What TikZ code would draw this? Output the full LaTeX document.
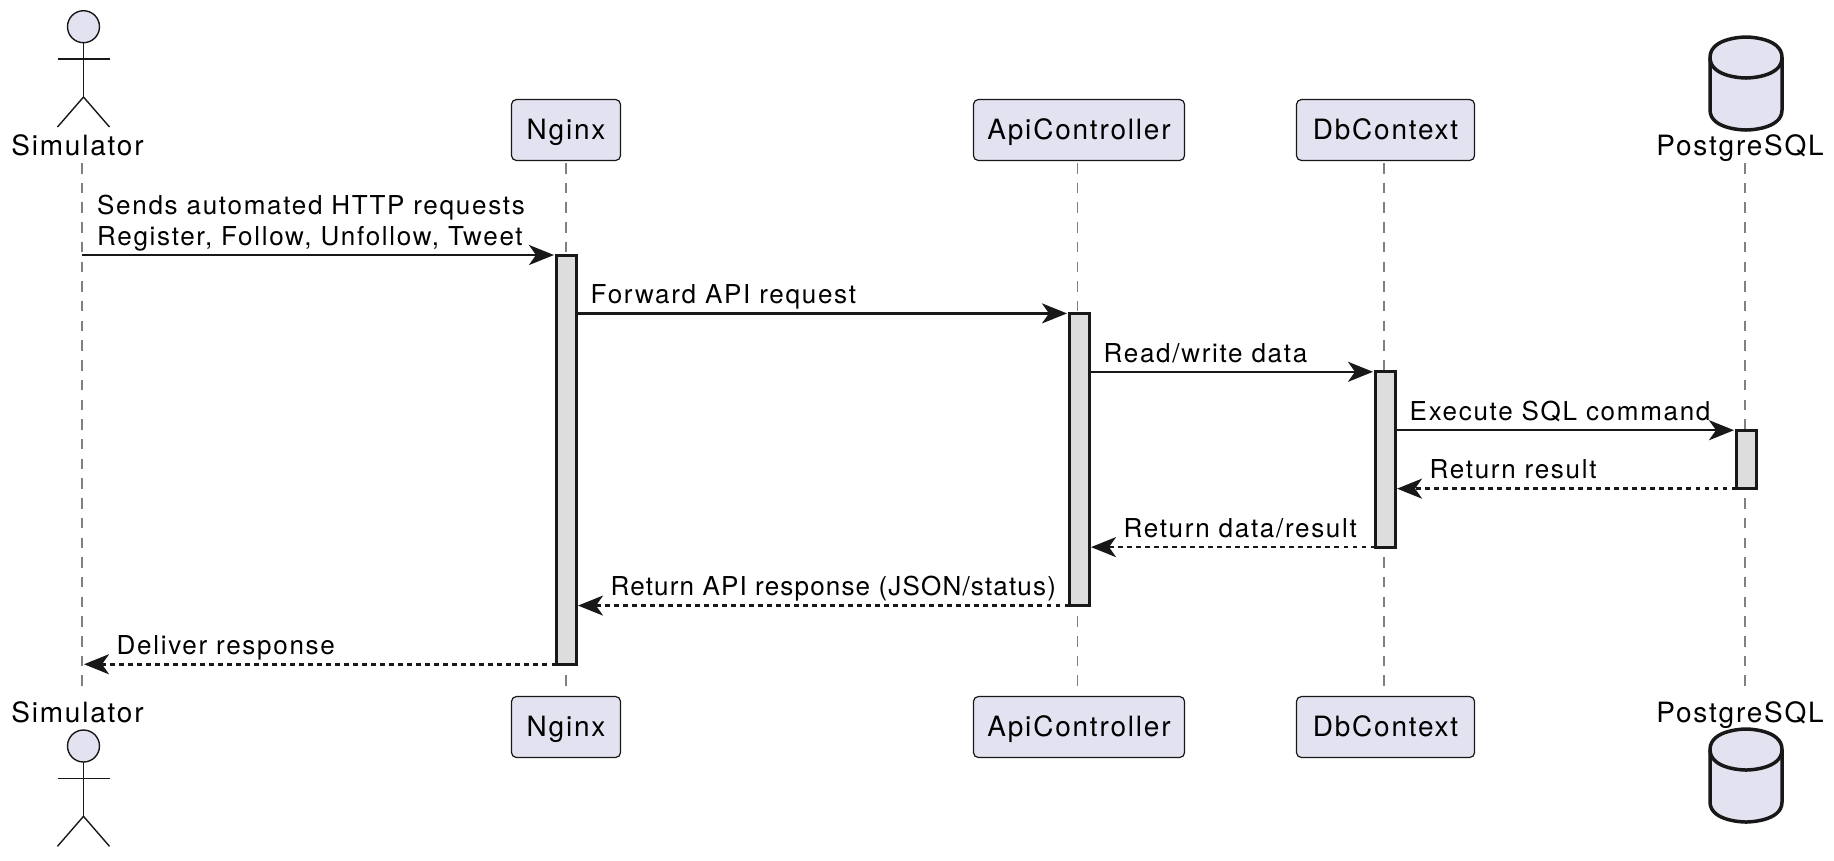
\documentclass[tikz,border=0pt]{standalone}
\usepackage{fontspec}
\setmainfont[LetterSpace=6.5]{TeX Gyre Heros}
\usetikzlibrary{arrows.meta}
\definecolor{partfill}{HTML}{E2E2F0}
\definecolor{barfill}{HTML}{DDDDDD}
\definecolor{inkline}{HTML}{181818}
\definecolor{lifegray}{HTML}{808080}
\tikzset{
    partbox/.style={draw=inkline,fill=partfill,line width=0.012cm,rounded corners=0.05cm,minimum height=0.61cm,inner sep=0pt,outer sep=0pt,text height=0.24cm,text depth=0.06cm,font=\fontsize{7.95}{9}\selectfont},
    partname/.style={anchor=base,inner sep=0pt,font=\fontsize{7.95}{9}\selectfont},
    msgname/.style={anchor=base west,inner sep=0pt,align=left,font=\fontsize{7.4}{8.8}\selectfont},
    lifeline/.style={lifegray,line width=0.015cm,dash pattern=on 0.105cm off 0.092cm},
    actbar/.style={draw=inkline,fill=barfill,line width=0.03cm,minimum width=0.2cm,inner sep=0pt,outer sep=0pt,anchor=north},
    msgcall/.style={-{Stealth[length=0.25cm,width=0.2cm,inset=0.07cm]},inkline,line width=0.025cm,shorten >=0.02cm},
    msgback/.style={msgcall,dash pattern=on 0.045cm off 0.045cm},
    actorhead/.style={draw=inkline,fill=partfill,line width=0.014cm},
    actorline/.style={draw=inkline,line width=0.014cm},
    dbline/.style={draw=inkline,fill=partfill,line width=0.035cm}
}
\begin{document}
\begin{tikzpicture}[x=0.01cm,y=-0.01cm]
    \useasboundingbox (0,0) rectangle (1834,860);
    % lifelines
    \coordinate (lineSimA) at (82,163);
    \coordinate (lineSimB) at (82,692);
    \coordinate (lineNginxA) at (566,163);
    \coordinate (lineNginxB) at (566,692);
    \coordinate (lineApiA) at (1077.5,163);
    \coordinate (lineApiB) at (1077.5,692);
    \coordinate (lineDbA) at (1384,163);
    \coordinate (lineDbB) at (1384,692);
    \coordinate (linePgA) at (1745,163);
    \coordinate (linePgB) at (1745,692);
    \draw[lifeline] (lineSimA)--(lineSimB);
    \draw[lifeline] (lineNginxA)--(lineNginxB);
    \draw[lifeline] (lineApiA)--(lineApiB);
    \draw[lifeline] (lineDbA)--(lineDbB);
    \draw[lifeline] (linePgA)--(linePgB);
    % participants
    \node[partbox,minimum width=1.09cm] (nginxTop) at (566,130){Nginx};
    \node[partbox,minimum width=2.11cm] (apiTop) at (1079,130){ApiController};
    \node[partbox,minimum width=1.78cm] (dbTop) at (1385.5,130){DbContext};
    \node[partbox,minimum width=1.09cm] (nginxBot) at (566,727){Nginx};
    \node[partbox,minimum width=2.11cm] (apiBot) at (1079,727){ApiController};
    \node[partbox,minimum width=1.78cm] (dbBot) at (1385.5,727){DbContext};
    \node[partname] (simTop) at (77.5,155){Simulator};
    \node[partname] (simBot) at (77.5,722){Simulator};
    \node[partname] (pgTop) at (1740,155.5){PostgreSQL};
    \node[partname] (pgBot) at (1740,722.5){PostgreSQL};
    % actor figures
    \begin{scope}
        \draw[actorhead] (83.5,26.7) ellipse (16 and 16);
        \draw[actorline] (83.5,42.7)--(83.5,97);
        \draw[actorline] (57.5,59)--(109.5,59);
        \draw[actorline] (57.5,127)--(83.5,97)--(109.5,127);
    \end{scope}
    \begin{scope}[shift={(0,719.3)}]
        \draw[actorhead] (83.5,26.7) ellipse (16 and 16);
        \draw[actorline] (83.5,42.7)--(83.5,97);
        \draw[actorline] (57.5,59)--(109.5,59);
        \draw[actorline] (57.5,127)--(83.5,97)--(109.5,127);
    \end{scope}
    % database figures
    \begin{scope}
        \draw[dbline] (1710,57.5) .. controls (1710,37) and (1746,37) .. (1746,37) .. controls (1746,37) and (1782,37) .. (1782,57.5)--(1782,110) .. controls (1782,130) and (1746,130) .. (1746,130) .. controls (1746,130) and (1710,130) .. (1710,110)--cycle;
        \draw[dbline,fill=none] (1710,57.5) .. controls (1710,78) and (1746,78) .. (1746,78) .. controls (1746,78) and (1782,78) .. (1782,57.5);
    \end{scope}
    \begin{scope}[shift={(0,692)}]
        \draw[dbline] (1710,57.5) .. controls (1710,37) and (1746,37) .. (1746,37) .. controls (1746,37) and (1782,37) .. (1782,57.5)--(1782,110) .. controls (1782,130) and (1746,130) .. (1746,130) .. controls (1746,130) and (1710,130) .. (1710,110)--cycle;
        \draw[dbline,fill=none] (1710,57.5) .. controls (1710,78) and (1746,78) .. (1746,78) .. controls (1746,78) and (1782,78) .. (1782,57.5);
    \end{scope}
    % activation bars
    \node[actbar,minimum height=4.09cm] (barNginx) at (566,255){};
    \node[actbar,minimum height=2.92cm] (barApi) at (1079,313.4){};
    \node[actbar,minimum height=1.752cm] (barDb) at (1385,371.8){};
    \node[actbar,minimum height=0.584cm] (barPg) at (1746,430.2){};
    % messages
    \draw[msgcall] (lineSimA|-barNginx.north)--(barNginx.north west);
    \draw[msgcall] (barNginx.east|-barApi.north)--(barApi.north west);
    \draw[msgcall] (barApi.east|-barDb.north)--(barDb.north west);
    \draw[msgcall] (barDb.east|-barPg.north)--(barPg.north west);
    \draw[msgback] (barPg.south west)--(barDb.east|-barPg.south);
    \draw[msgback] (barDb.south west)--(barApi.east|-barDb.south);
    \draw[msgback] (barApi.south west)--(barNginx.east|-barApi.south);
    \draw[msgback] (barNginx.south west)--(lineSimA|-barNginx.south);
    \node[msgname] (txtSends) at (96.5,245){Sends automated HTTP requests\\Register, Follow, Unfollow, Tweet};
    \node[msgname] (txtForward) at (590,303.5){Forward API request};
    \node[msgname] (txtRead) at (1103,362){Read/write data};
    \node[msgname] (txtExecute) at (1409,420.5){Execute SQL command};
    \node[msgname] (txtResult) at (1429,478.5){Return result};
    \node[msgname] (txtData) at (1123,537){Return data/result};
    \node[msgname,font=\fontsize{7.4}{8.8}\selectfont\addfontfeature{LetterSpace=4.5}] (txtResponse) at (610,595.5){Return API response (JSON/status)};
    \node[msgname] (txtDeliver) at (116,654){Deliver response};
\end{tikzpicture}
\end{document}
